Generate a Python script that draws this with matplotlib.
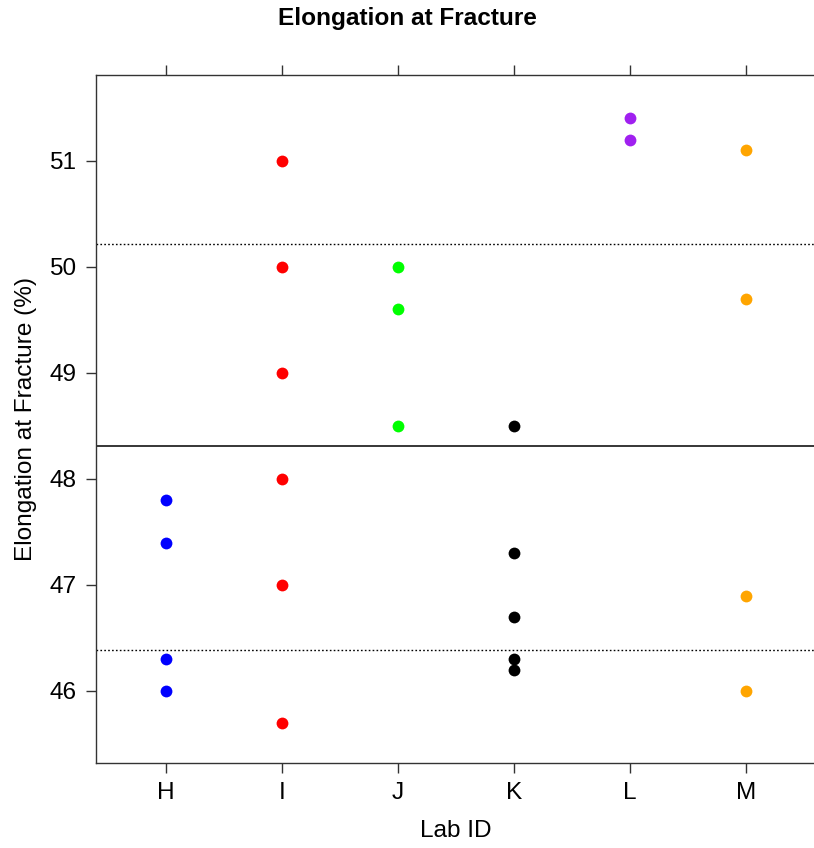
import matplotlib
matplotlib.use("Agg")
import matplotlib.pyplot as plt

plt.rcParams['font.family'] = ['Liberation Sans', 'DejaVu Sans']

labs = ["H", "I", "J", "K", "L", "M"]
lab_colors = ["#0000FF", "#FF0000", "#00FF00", "#000000", "#A020F0", "#FFA500"]
elongation = {
    "H": [47.8, 47.4, 46.3, 46.0],
    "I": [51.0, 50.0, 49.0, 48.0, 47.0, 45.7],
    "J": [50.0, 49.6, 48.5],
    "K": [48.5, 47.3, 46.7, 46.3, 46.2],
    "L": [51.4, 51.2],
    "M": [51.1, 49.7, 46.9, 46.0],
}
# reference lines
center_line = 48.31
limit_lines = [46.39, 50.22]
y_ticks = [46, 47, 48, 49, 50, 51]

fs = 17.6

fig = plt.figure(figsize=(8.14, 8.48), dpi=100)
ax = fig.add_axes([96 / 814, 1 - 763 / 848, 720 / 814, 688 / 848])

for i, (lab, col) in enumerate(zip(labs, lab_colors)):
    vals = elongation[lab]
    ax.plot([i] * len(vals), vals, "o", color=col, markersize=8.5,
            markeredgewidth=0, zorder=3)

ax.axhline(center_line, color="black", lw=1.1)
for v in limit_lines:
    ax.axhline(v, color="black", lw=1.0, ls=(0, (1.2, 1.6)))

ax.set_xlim(-0.6, 5.6)
ax.set_ylim(45.32, 51.81)
ax.set_xticks(range(len(labs)))
ax.set_xticklabels(labs)
ax.set_yticks(y_ticks)

ax.tick_params(axis="x", which="both", top=True, direction="out", length=7,
               width=1, labelsize=fs, pad=7, colors="#333333", labelcolor="black")
ax.tick_params(axis="y", direction="out", length=7, width=1, labelsize=fs,
               pad=7, colors="#333333", labelcolor="black")
for s in ax.spines.values():
    s.set_linewidth(1.0)
    s.set_color("#333333")

ax.set_xlabel("Lab ID", fontsize=fs, labelpad=11)
ax.set_ylabel("Elongation at Fracture (%)", fontsize=fs, labelpad=9)
fig.text(0.5, 1 - 19 / 848, "Elongation at Fracture", ha="center", va="center",
         fontsize=fs, fontweight="bold")

fig.savefig("out.png", dpi=100)
